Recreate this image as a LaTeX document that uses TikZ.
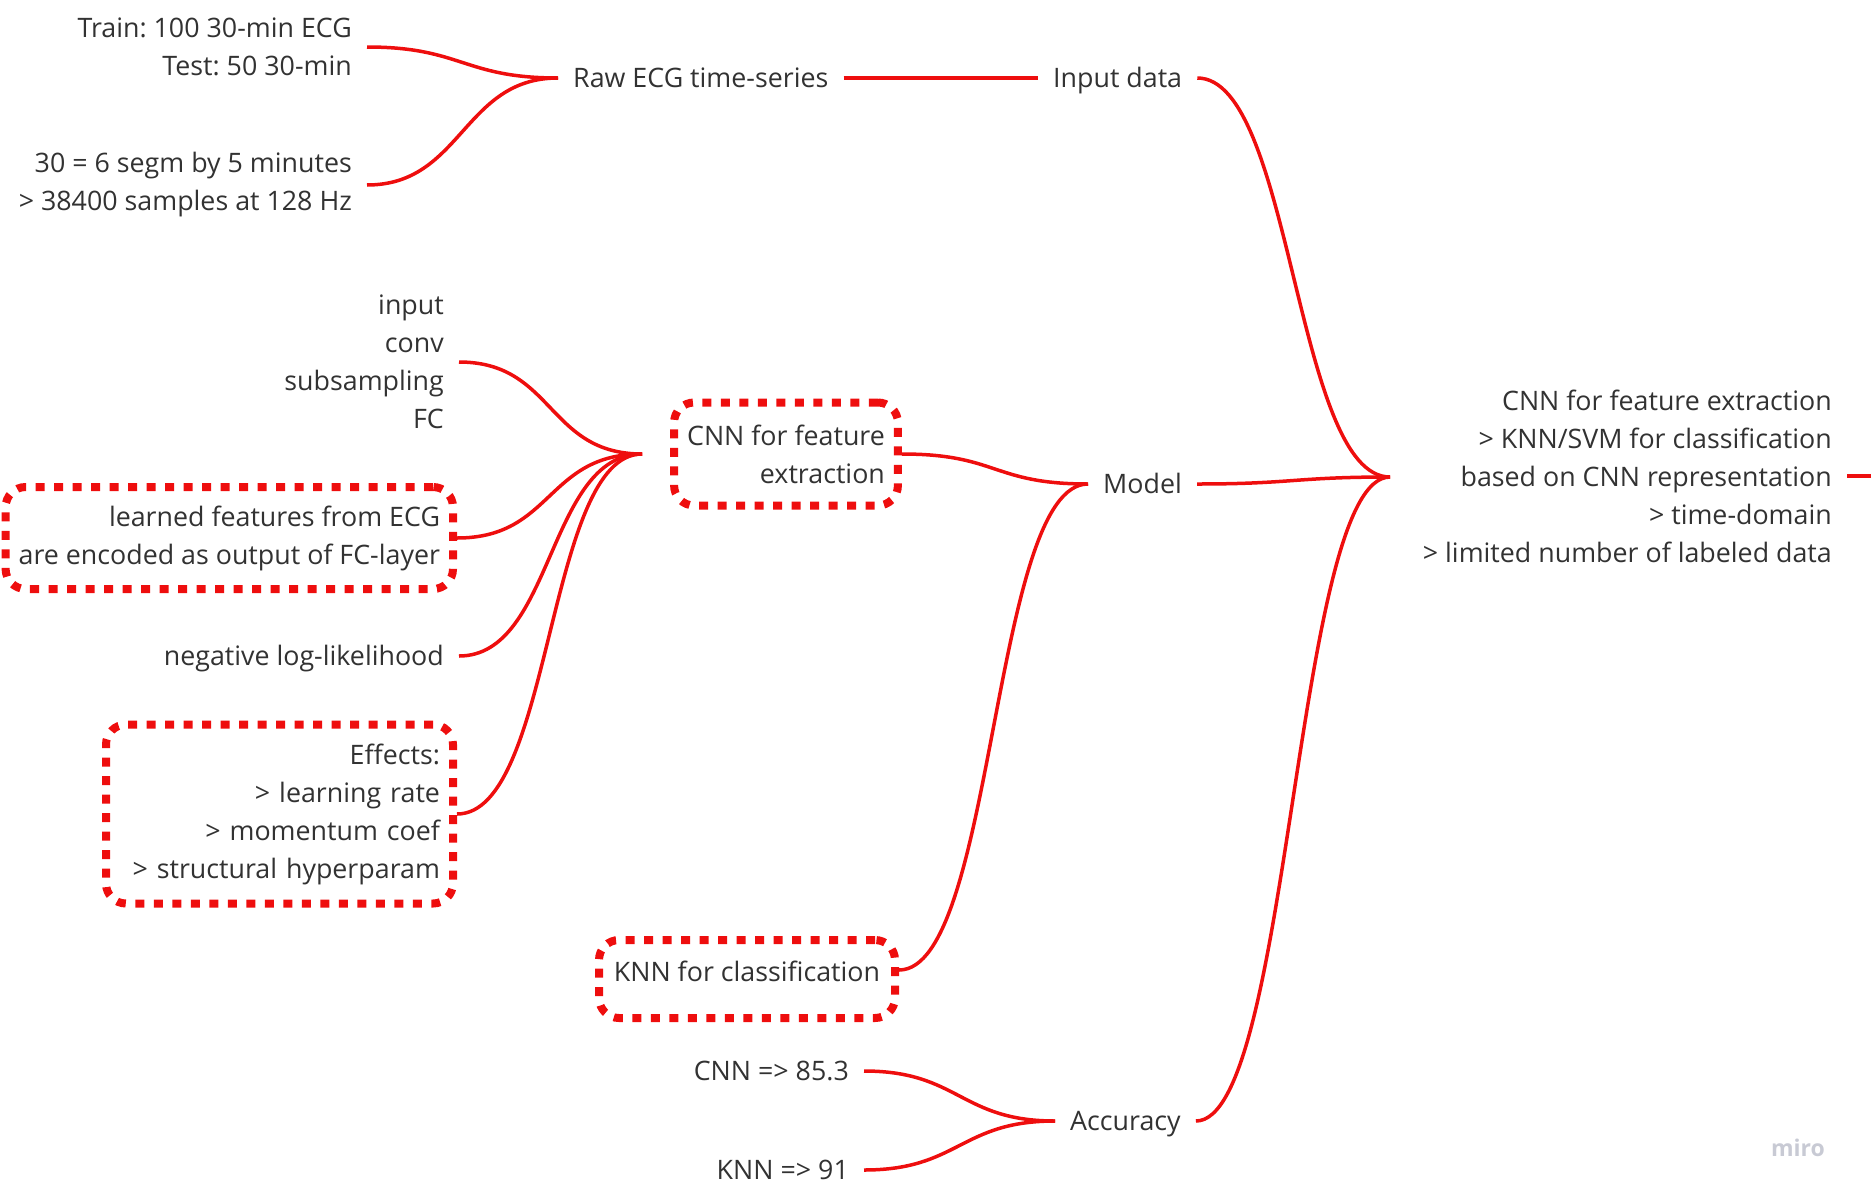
\documentclass[tikz,border=0pt]{standalone}
\usepackage{fontspec}
\setmainfont{Open Sans}
\frenchspacing
\definecolor{mapred}{RGB}{238,14,14}
\definecolor{mapink}{RGB}{50,50,50}
\definecolor{mapgrey}{RGB}{200,202,212}
\usetikzlibrary{positioning}

\begin{document}
\begin{tikzpicture}[x=1pt,y=-1pt,font=\fontsize{26.8}{38}\selectfont,text=mapink,
    topic/.style={inner xsep=15pt,inner ysep=3pt,align=right},
    single/.style={topic,text height=19.2pt,text depth=0pt},
    marked/.style={draw=mapred,line width=8pt,dash pattern=on 9pt off 9.5pt,
          rounded corners=20pt,inner xsep=13pt,align=right},
    link/.style={draw=mapred,line width=3.5pt}]
    \useasboundingbox (0,0) rectangle (1871,1202);

    % main branch
    \node[single,anchor=west](raw) at (558,78){Raw ECG time-series};
    \node[single,anchor=west](input) at (1038,78){Input data};
    \node[single,anchor=west](model) at (1088,484){Model};
    \node[single,anchor=west](acc) at (1055,1121){Accuracy};
    \node[topic,anchor=east](root) at (1847,476){CNN for feature extraction\\> KNN/SVM for classification\\based on CNN representation\\> time-domain\\> limited number of labeled data};
    \coordinate (hub) at (1390,477);
    \coordinate (rootout) at (1871,476);

    % data
    \node[topic,anchor=east](train) at (367,47){Train: 100 30-min ECG\\Test: 50 30-min};
    \node[topic,anchor=east](segm) at (367,185){30 = 6 segm by 5 minutes\\> 38400 samples at 128 Hz};

    % model
    \node[marked,minimum width=217pt,minimum height=103pt](cnn) at (786,454){CNN for feature\\extraction};
    \coordinate[left=28pt of cnn](cnnhub);
    \node[marked,text height=19.2pt,text depth=14pt,minimum width=296pt,minimum height=78pt](knn) at (747,979){KNN for classification};
    \node[topic,anchor=east](layers) at (459,362){input\\conv\\subsampling\\FC};
    \node[marked,anchor=east,minimum height=102pt](learned) at (457,538){learned features from ECG\\are encoded as output of FC-layer};
    \node[single,anchor=east](nll) at (459,656){negative log-likelihood};
    \node[marked,anchor=east,text width=321pt,minimum height=179pt](effects) at (457,814){Effects:\\> learning rate\\> momentum coef\\> structural hyperparam};

    % accuracy
    \node[single,anchor=east](cnnacc) at (864,1071){CNN => 85.3};
    \node[single,anchor=east](knnacc) at (864,1170){KNN => 91};

    \node[text=mapgrey,font=\fontsize{23}{26}\selectfont\bfseries](brand) at (1798,1148){miro};

    \draw[link](train.east) .. controls +(95,0) and +(-95,0) .. (raw.west);
    \draw[link](segm.east) .. controls +(95,0) and +(-95,0) .. (raw.west);
    \draw[link](raw.east) -- (input.west);
    \draw[link](input.east) .. controls +(95,0) and +(-95,0) .. (hub);
    \draw[link](model.east) .. controls +(95,0) and +(-95,0) .. (hub);
    \draw[link](acc.east) .. controls +(95,0) and +(-95,0) .. (hub);
    \draw[link](root.east) -- (rootout);
    \draw[link](cnn.east) .. controls +(96,0) and +(-96,0) .. (model.west);
    \draw[link]([yshift=9pt]knn.east) .. controls +(96,0) and +(-96,0) .. (model.west);
    \draw[link](layers.east) .. controls +(95,0) and +(-95,0) .. (cnnhub);
    \draw[link](learned.east) .. controls +(96,0) and +(-96,0) .. (cnnhub);
    \draw[link](nll.east) .. controls +(95,0) and +(-95,0) .. (cnnhub);
    \draw[link](effects.east) .. controls +(96,0) and +(-96,0) .. (cnnhub);
    \draw[link](cnnacc.east) .. controls +(95,0) and +(-95,0) .. (acc.west);
    \draw[link](knnacc.east) .. controls +(95,0) and +(-95,0) .. (acc.west);
  \end{tikzpicture}
\end{document}
